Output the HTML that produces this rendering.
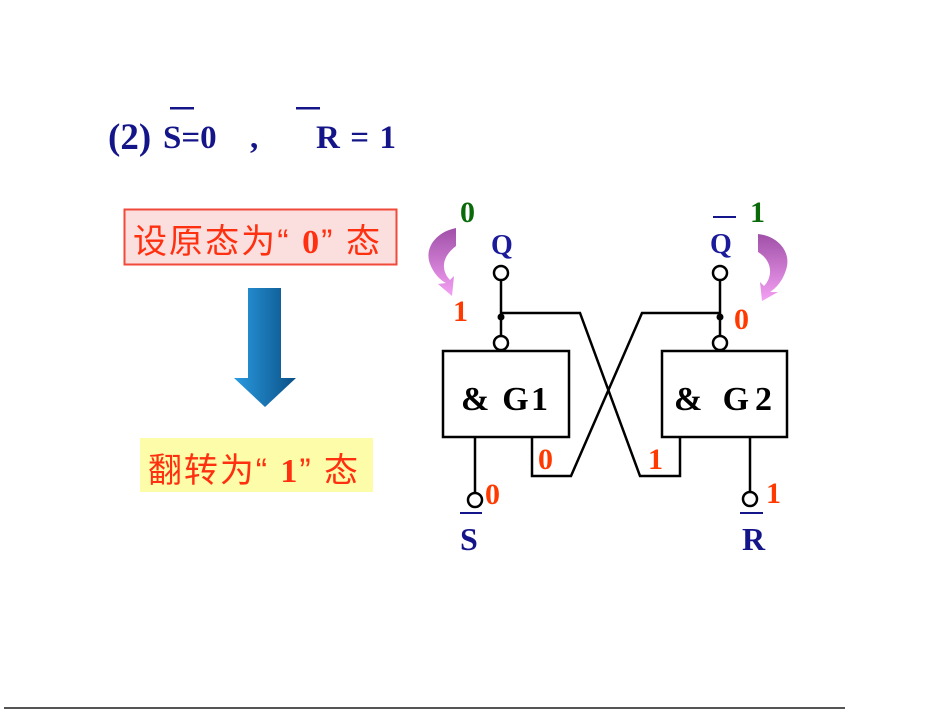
<!DOCTYPE html>
<html><head><meta charset="utf-8"><style>
html,body{margin:0;padding:0;background:#fff;}
svg{display:block}
.s{font-family:"Liberation Serif","Noto Serif CJK SC",serif;font-weight:bold}
.c{font-family:"Liberation Sans","Noto Sans CJK SC",sans-serif}
</style></head><body>
<svg width="950" height="717" viewBox="0 0 950 717" xmlns="http://www.w3.org/2000/svg">
<defs>
<linearGradient id="bg" x1="0" x2="1"><stop offset="0" stop-color="#2a9be0"/><stop offset="1" stop-color="#0a4f86"/></linearGradient>
<linearGradient id="mg" x1="0" y1="0" x2="0" y2="1"><stop offset="0" stop-color="#a050a8"/><stop offset="1" stop-color="#f4a0f4"/></linearGradient>
</defs>
<g class="s" fill="#15158a">
<text x="108" y="149" font-size="37">(2)</text>
<text x="163" y="148" font-size="33">S=0</text>
<text x="250" y="148" font-size="33">,</text>
<text x="316" y="148" font-size="33" textLength="80">R = 1</text>
</g>
<rect x="170" y="107" width="24" height="2.5" fill="#15158a"/>
<rect x="296" y="107" width="24" height="2.5" fill="#15158a"/>
<rect x="124.5" y="209.5" width="272" height="55" fill="#fbdede" stroke="#f04a3a" stroke-width="2"/>
<text x="133" y="253" class="c" fill="#ff3010" font-size="34" textLength="247">设原态为“ <tspan class="s">0</tspan>” 态</text>
<polygon points="248,288 281,288 281,378 296,378 265,407 234,378 248,378" fill="url(#bg)"/>
<rect x="140" y="438" width="233" height="54" fill="#fdfca8"/>
<text x="148" y="482" class="c" fill="#ff3010" font-size="34" textLength="210">翻转为“ <tspan class="s">1</tspan>” 态</text>
<g stroke="#000" stroke-width="2.5" fill="none">
<rect x="443" y="351" width="126" height="86"/>
<rect x="662" y="351" width="125" height="86"/>
<polyline points="501,313 580,313 640,476 680,476 680,437"/>
<polyline points="720,313 642,313 571,476 532,476 532,437"/>
<line x1="501" y1="280" x2="501" y2="336"/>
<line x1="720" y1="280" x2="720" y2="336"/>
<line x1="475" y1="437" x2="475" y2="493"/>
<line x1="750" y1="437" x2="750" y2="492"/>
<circle cx="501" cy="273" r="7" fill="#fff"/>
<circle cx="720" cy="273" r="7" fill="#fff"/>
<circle cx="501" cy="343" r="7" fill="#fff"/>
<circle cx="720" cy="343" r="7" fill="#fff"/>
<circle cx="475" cy="500" r="7" fill="#fff"/>
<circle cx="750" cy="499" r="7" fill="#fff"/>
</g>
<circle cx="501" cy="317" r="3.5"/><circle cx="720" cy="317" r="3.5"/>
<g class="s" font-size="34" fill="#000">
<text x="461" y="410" textLength="87">&amp; G1</text>
<text x="674" y="410" textLength="98">&amp;  G2</text>
</g>
<g class="s" font-size="30">
<text x="460" y="222" fill="#0a6a0a">0</text>
<text x="750" y="222" fill="#0a6a0a">1</text>
<text x="491" y="254" fill="#1a1a9a" font-size="28">Q</text>
<text x="710" y="253" fill="#1a1a9a" font-size="28">Q</text>
<text x="453" y="321" fill="#ff3a00">1</text>
<text x="734" y="329" fill="#ff3a00">0</text>
<text x="538" y="469" fill="#ff3a00">0</text>
<text x="648" y="469" fill="#ff3a00">1</text>
<text x="485" y="504" fill="#ff3a00">0</text>
<text x="766" y="503" fill="#ff3a00">1</text>
<text x="460" y="550" fill="#15158a" font-size="32">S</text>
<text x="742" y="550" fill="#15158a" font-size="32">R</text>
</g>
<rect x="713" y="216" width="23" height="2" fill="#15158a"/>
<rect x="460" y="512" width="22" height="2" fill="#15158a"/>
<rect x="740" y="512" width="23" height="2" fill="#15158a"/>
<path d="M456,228 C436,232 424,248 430,264 C434,274 440,280 446,283 L438,284 L452,296 L454,276 L450,280 C442,272 440,258 456,246 Z" fill="url(#mg)"/>
<path d="M758,234 C778,236 792,252 786,270 C782,282 776,288 770,292 L778,292 L762,301 L760,282 L764,286 C772,278 774,262 758,252 Z" fill="url(#mg)"/>
<rect x="4" y="707" width="841" height="2" fill="#555"/>
</svg>
</body></html>
